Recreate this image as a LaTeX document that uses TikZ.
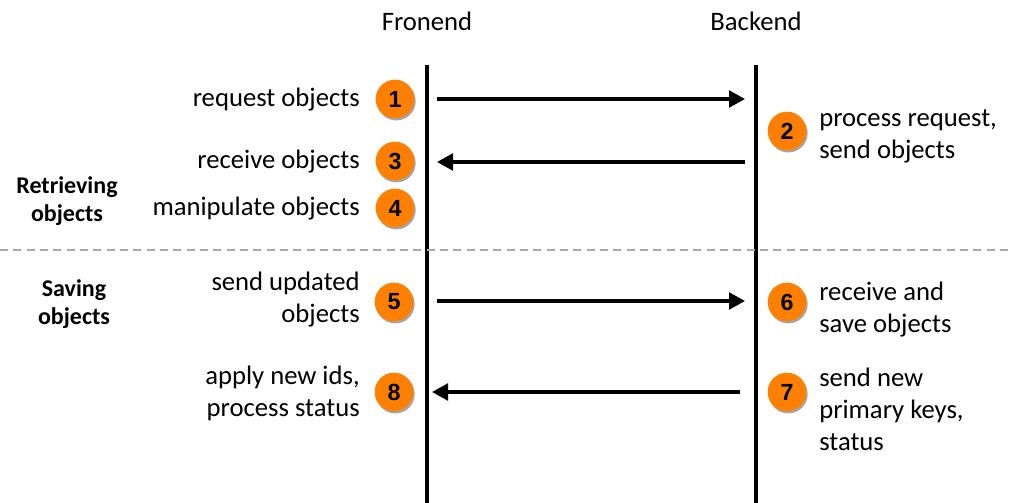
\documentclass[tikz,border=0pt]{standalone}
\usepackage{fontspec}
\setmainfont{Carlito}
\newfontfamily\numfont{Liberation Sans}
\usetikzlibrary{arrows.meta,shadows}
\definecolor{stepcol}{RGB}{255,128,0}
\definecolor{sepcol}{RGB}{170,170,170}
\tikzset{
  stepnum/.style={circle, fill=stepcol, minimum size=29pt, inner sep=0pt, font=\numfont\bfseries\fontsize{17.5}{20}\selectfont,
    drop shadow={shadow xshift=1pt, shadow yshift=-1.6pt, opacity=0.35, fill=black}},
  life/.style={line width=3.6pt},
  msg/.style={line width=2.5pt, -{Triangle[length=12pt, width=12.5pt]}},
  lbl/.style={font=\fontsize{20}{24}\selectfont, inner sep=0pt},
  lleft/.style={lbl, anchor=east, align=right},
  lright/.style={lbl, anchor=west, align=left},
  phase/.style={font=\bfseries\fontsize{18}{21}\selectfont, align=center, inner sep=0pt},
}
\begin{document}
\begin{tikzpicture}[x=0.75pt, y=-0.75pt]
  \useasboundingbox (0,0) rectangle (1010,503);
  % lifelines
  \node[lbl] (fe) at (427,21) {Fronend};
  \node[lbl] (be) at (756,21) {Backend};
  \coordinate (fetop) at (427,65); \coordinate (febot) at (427,503);
  \coordinate (betop) at (756,65); \coordinate (bebot) at (756,503);
  \draw[life] (fetop) -- (febot);
  \draw[life] (betop) -- (bebot);
  % phase separator
  \coordinate (sepl) at (0,250); \coordinate (sepr) at (1010,250);
  \draw[sepcol, line width=1.6pt, dash pattern=on 6pt off 4pt] (sepl) -- (sepr);
  \node[phase] (retr) at (67,201) {Retrieving\\objects};
  \node[phase] (save) at (74,304) {Saving\\objects};
  % steps
  \node[stepnum] (n1) at (395,99) {1};
  \node[stepnum] (n2) at (787,131) {2};
  \node[stepnum] (n3) at (395,161) {3};
  \node[stepnum] (n4) at (395,208) {4};
  \node[stepnum] (n5) at (394,302) {5};
  \node[stepnum] (n6) at (787,302) {6};
  \node[stepnum] (n7) at (787,392) {7};
  \node[stepnum] (n8) at (394,392) {8};
  \node[lleft] (t1) at (360,100) {request objects};
  \node[lright] (t2) at (819,136) {process request,\\send objects};
  \node[lleft] (t3) at (360,162) {receive objects};
  \node[lleft] (t4) at (360,209) {manipulate objects};
  \node[lleft] (t5) at (360,300) {send updated\\objects};
  \node[lright] (t6) at (819,310) {receive and\\save objects};
  \node[lright] (t7) at (819,409) {send new\\primary keys,\\status};
  \node[lleft] (t8) at (360,393) {apply new ids,\\process status};
  % messages
  \coordinate (a1) at (437,99);  \coordinate (b1) at (745,99);
  \coordinate (a3) at (437,162); \coordinate (b3) at (745,162);
  \coordinate (a5) at (437,301); \coordinate (b5) at (745,301);
  \coordinate (a8) at (432,392); \coordinate (b8) at (740,392);
  \draw[msg] (a1) -- (b1); \draw[msg] (b3) -- (a3);
  \draw[msg] (a5) -- (b5); \draw[msg] (b8) -- (a8);
\end{tikzpicture}
\end{document}
